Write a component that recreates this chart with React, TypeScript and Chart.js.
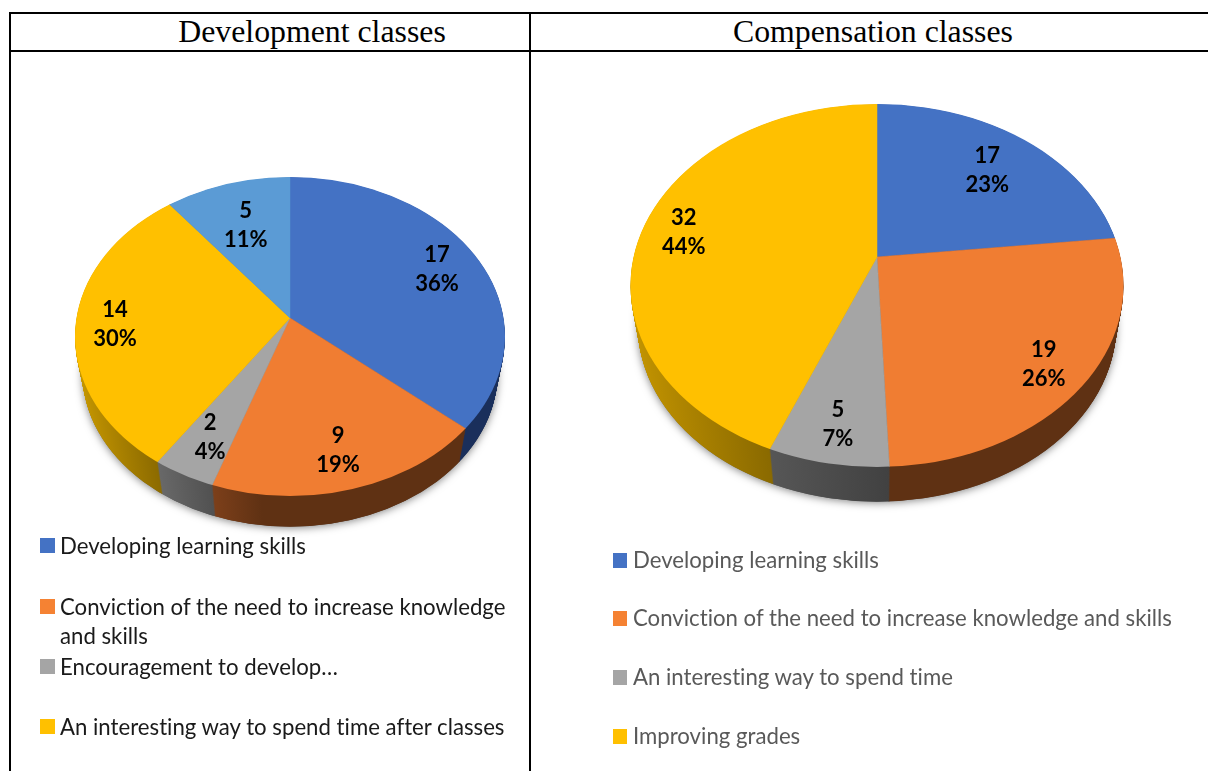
import React, { useEffect, useRef } from "react";
import { Chart, registerables } from "chart.js";

Chart.register(...registerables);

// ---- data ----
const devTitle = "Development classes";
const compTitle = "Compensation classes";
const devCategories = [
  "Developing learning skills",
  "Conviction of the need to increase knowledge and skills",
  "Encouragement to develop...",
  "An interesting way to spend time after classes",
  "Other",
];
const devValues = [17, 9, 2, 14, 5];
const devPercents = ["36%", "19%", "4%", "30%", "11%"];
const compCategories = [
  "Developing learning skills",
  "Conviction of the need to increase knowledge and skills",
  "An interesting way to spend time",
  "Improving grades",
];
const compValues = [17, 19, 5, 32];
const compPercents = ["23%", "26%", "7%", "44%"];

// ---- styles ----
const devColors = ["#4472C4", "#F07D32", "#A5A5A5", "#FFC000", "#5B9BD5"];
const compColors = ["#4472C4", "#F07D32", "#A5A5A5", "#FFC000"];
const labelFont = "bold 22px Lato";

type Wall = [number, number, string, string];

const devGeom = {
  left: 11, top: 52, width: 518, height: 719,
  vx: 290, vy: 318, cy: 336.5, rx: 215, ry: 159.5, k: 0.745, drop: 37, taper: 0.965,
  labelRadius: [162, 182, 177, 175, 135],
  labelShift: 2,
  walls: [
    [300, 500, "#1a2f5b", "#1a2f5b"],
    [213, 262, "#7c3f1a", "#5f3113"],
    [158, 214, "#686868", "#505050"],
    [75, 160, "#c69700", "#8a6900"],
    [170, 290, "#2f5f8e", "#2f5f8e"],
  ] as Wall[],
};
const compGeom = {
  left: 531, top: 52, width: 677, height: 719,
  vx: 877, vy: 257, cy: 285.5, rx: 246.5, ry: 181.5, k: 0.73, drop: 41, taper: 0.97,
  labelRadius: [165, 220, 228, 197],
  labelShift: 3,
  walls: [
    [880, 1120, "#1a2f5b", "#1a2f5b"],
    [889, 1120, "#5f3113", "#5f3113"],
    [770, 890, "#565656", "#414141"],
    [630, 775, "#c39400", "#886800"],
  ] as Wall[],
};

function tiltPlugin(g: typeof devGeom, percents: string[]) {
  const vx = g.vx - g.left;
  const vy = g.vy - g.top;
  const cy = g.cy - g.top;
  return {
    id: "tilt",
    beforeDatasetsDraw(chart: any) {
      const ctx = chart.ctx as CanvasRenderingContext2D;
      const arcs = chart.getDatasetMeta(0).data as any[];

      // soft shadow under the disc
      ctx.save();
      ctx.shadowColor = "rgba(0,0,0,0.5)";
      ctx.shadowBlur = 9;
      ctx.shadowOffsetY = 1;
      ctx.fillStyle = "#777";
      ctx.beginPath();
      ctx.ellipse(vx, vy + g.drop + (cy - vy) * g.taper, g.rx * g.taper, g.ry * g.taper, 0, 0, Math.PI * 2);
      ctx.fill();
      ctx.restore();

      // side walls: the slices swept downward, slightly shrinking
      const ox = arcs[0].x;
      const oy = arcs[0].y;
      const fills = g.walls.map(([x0, x1, c0, c1]) => {
        const gr = ctx.createLinearGradient(ox + x0 - g.vx, 0, ox + x1 - g.vx, 0);
        gr.addColorStop(0, c0);
        gr.addColorStop(1, c1);
        return gr;
      });
      const steps = Math.ceil(g.drop * 2);
      for (let i = steps; i >= 1; i--) {
        const t = i / steps;
        const s = 1 - t * (1 - g.taper);
        ctx.save();
        ctx.translate(vx, vy + t * g.drop);
        ctx.scale(s, s);
        ctx.beginPath();
        ctx.ellipse(0, cy - vy, g.rx, g.ry, 0, 0, Math.PI * 2);
        ctx.clip();
        ctx.scale(1, g.k);
        ctx.translate(-ox, -oy);
        arcs.forEach((arc, idx) => {
          const bg = arc.options.backgroundColor;
          const bc = arc.options.borderColor;
          arc.options.backgroundColor = fills[idx];
          arc.options.borderColor = fills[idx];
          arc.draw(ctx);
          arc.options.backgroundColor = bg;
          arc.options.borderColor = bc;
        });
        ctx.restore();
      }

      // top face: library arcs, clipped to the tilted disc
      ctx.save();
      ctx.translate(vx, vy);
      ctx.beginPath();
      ctx.ellipse(0, cy - vy, g.rx, g.ry, 0, 0, Math.PI * 2);
      ctx.clip();
      ctx.scale(1, g.k);
      ctx.translate(-ox, -oy);
    },
    afterDatasetsDraw(chart: any) {
      const ctx = chart.ctx as CanvasRenderingContext2D;
      ctx.restore();
      const arcs = chart.getDatasetMeta(0).data as any[];
      const values = chart.data.datasets[0].data as number[];
      ctx.save();
      ctx.font = labelFont;
      ctx.fillStyle = "#000";
      ctx.textAlign = "center";
      ctx.textBaseline = "middle";
      arcs.forEach((arc, i) => {
        const mid = (arc.startAngle + arc.endAngle) / 2;
        const r = g.labelRadius[i];
        const x = vx + Math.cos(mid) * r;
        const y = vy + Math.sin(mid) * r * g.k + g.labelShift;
        ctx.fillText(String(values[i]), x, y - 14.5);
        ctx.fillText(percents[i], x, y + 14.5);
      });
      ctx.restore();
    },
  };
}

function Pie3D({ geom, labels, values, colors, percents }: any) {
  const ref = useRef<HTMLCanvasElement | null>(null);
  useEffect(() => {
    const chart = new Chart(ref.current as HTMLCanvasElement, {
      type: "pie",
      data: {
        labels,
        datasets: [
          {
            data: values,
            backgroundColor: colors,
            borderColor: colors,
            borderWidth: 0.6,
            clip: false,
          } as any,
        ],
      },
      options: {
        animation: false,
        responsive: false,
        radius: 420,
        plugins: { legend: { display: false }, tooltip: { enabled: false } },
      } as any,
      plugins: [tiltPlugin(geom, percents)],
    });
    return () => chart.destroy();
  }, []);
  return (
    <canvas
      ref={ref}
      width={geom.width}
      height={geom.height}
      style={{ position: "absolute", left: geom.left, top: geom.top, width: geom.width, height: geom.height }}
    />
  );
}

const abs = (left: number, top: number, width: number, height: number, background: string): React.CSSProperties => ({
  position: "absolute", left, top, width, height, background,
});

const titleStyle = (cx: number): React.CSSProperties => ({
  position: "absolute", left: cx - 260, width: 520, top: 13, height: 38, lineHeight: "38px", textAlign: "center",
  fontFamily: "'Liberation Serif'", fontSize: 31.8, color: "#000", whiteSpace: "nowrap",
});

function Legend({ items }: { items: any[] }) {
  return (
    <>
      {items.map((it, i) => (
        <React.Fragment key={i}>
          <div style={abs(it.sx, it.sy, it.sw, 15, it.color)} />
          <div
            style={{
              position: "absolute", left: it.tx, top: it.ty, lineHeight: `${it.lh}px`, fontFamily: "Lato",
              fontSize: it.fs, fontVariantLigatures: "none", color: it.fg, whiteSpace: "pre",
            }}
          >
            {it.text}
          </div>
        </React.Fragment>
      ))}
    </>
  );
}

const leftRows = [
  { y: 538, ty: 531 },
  { y: 599, ty: 592 },
  { y: 659, ty: 652 },
  { y: 719, ty: 712 },
];
const rightRows = [
  { y: 553, ty: 545 },
  { y: 611, ty: 603 },
  { y: 670, ty: 662 },
  { y: 729, ty: 721 },
];
const devLegendText = [devCategories[0], "Conviction of the need to increase knowledge\nand skills", devCategories[2].replace("...", "…"), devCategories[3]];

export default function App() {
  useEffect(() => {
    document.body.style.margin = "0";
    document.body.style.background = "#fff";
  }, []);
  const leftItems = leftRows.map((r, i) => ({
    sx: 40, sy: r.y, sw: 15, color: devColors[i] === "#F07D32" ? "#F58233" : devColors[i], tx: 60, ty: r.ty, lh: 29, fs: 22.2, fg: "#1a1a1a", text: devLegendText[i],
  }));
  const rightItems = rightRows.map((r, i) => ({
    sx: 613, sy: r.y, sw: 14, color: compColors[i] === "#F07D32" ? "#F58233" : compColors[i], tx: 633, ty: r.ty, lh: 29, fs: 22.2, fg: "#595959", text: compCategories[i],
  }));
  return (
    <div style={{ position: "relative", width: 1208, height: 771, overflow: "hidden", background: "#fff" }}>
      <Pie3D geom={devGeom} labels={devCategories} values={devValues} colors={devColors} percents={devPercents} />
      <Pie3D geom={compGeom} labels={compCategories} values={compValues} colors={compColors} percents={compPercents} />
      <div style={abs(10, 12, 1198, 2, "#000")} />
      <div style={abs(10, 50, 1198, 2, "#000")} />
      <div style={abs(9, 12, 2, 759, "#000")} />
      <div style={abs(529, 12, 2, 759, "#000")} />
      <div style={titleStyle(312)}>{devTitle}</div>
      <div style={titleStyle(873)}>{compTitle}</div>
      <Legend items={leftItems} />
      <Legend items={rightItems} />
    </div>
  );
}
